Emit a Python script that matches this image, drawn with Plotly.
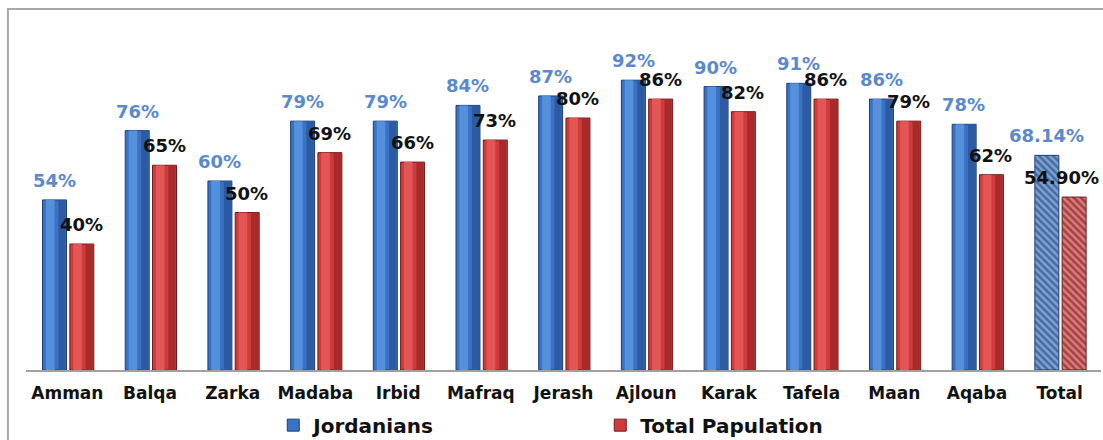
import plotly.graph_objects as go

# Share of population by governorate (%)
governorates = ["Amman", "Balqa", "Zarka", "Madaba", "Irbid", "Mafraq", "Jerash",
                "Ajloun", "Karak", "Tafela", "Maan", "Aqaba", "Total"]
jordanians = [54, 76, 60, 79, 79, 84, 87, 92, 90, 91, 86, 78, 68.14]
total_pop = [40, 65, 50, 69, 66, 73, 80, 86, 82, 86, 79, 62, 54.90]
jordanians_labels = ["54%", "76%", "60%", "79%", "79%", "84%", "87%", "92%", "90%",
                     "91%", "86%", "78%", "68.14%"]
total_labels = ["40%", "65%", "50%", "69%", "66%", "73%", "80%", "86%", "82%",
                "86%", "79%", "62%", "54.90%"]

BLUE = "#3A72C6"
BLUE_LIGHT = "#5590DC"
BLUE_DARK = "#2C5BA3"
RED = "#D23B3B"
RED_LIGHT = "#E25656"
RED_DARK = "#A82B2B"

W = 0.29          # bar width in category units
OFF_B = -0.300    # left edge of the Jordanians bar
OFF_R = 0.030     # left edge of the Total Papulation bar

n = len(governorates)
hatch = [""] * (n - 1) + ["\\"]

fig = go.Figure()

fig.add_trace(go.Bar(
    name="Jordanians", x=governorates, y=jordanians,
    width=W, offset=OFF_B,
    marker=dict(color=BLUE, line=dict(color="#1F3F73", width=1),
                pattern=dict(shape=hatch, fgcolor="#1B2F55", bgcolor="#7AA3DC",
                             size=5, solidity=0.5)),
    hoverinfo="skip",
))
fig.add_trace(go.Bar(
    name="Total Papulation", x=governorates, y=total_pop,
    width=W, offset=OFF_R,
    marker=dict(color=RED, line=dict(color="#6E1A1A", width=1),
                pattern=dict(shape=hatch, fgcolor="#4A1414", bgcolor="#E47878",
                             size=5, solidity=0.5)),
    hoverinfo="skip",
))

# Cylinder shading on the governorate bars: dark right side, light left-centre band
for vals, off, dark, light in [(jordanians, OFF_B, BLUE_DARK, BLUE_LIGHT),
                               (total_pop, OFF_R, RED_DARK, RED_LIGHT)]:
    fig.add_trace(go.Bar(
        x=governorates[:-1], y=vals[:-1], width=W * 0.3, offset=off + W * 0.66,
        marker=dict(color=dark, line=dict(width=0)), showlegend=False, hoverinfo="skip",
    ))
    fig.add_trace(go.Bar(
        x=governorates[:-1], y=vals[:-1], width=W * 0.36, offset=off + W * 0.14,
        marker=dict(color=light, line=dict(width=0)), showlegend=False, hoverinfo="skip",
    ))

# Value labels above each bar (the last one is pulled in to stay inside the frame)
for i, g in enumerate(governorates):
    fig.add_annotation(x=g, y=jordanians[i], text=jordanians_labels[i],
                       xshift=-13, yshift=7, yanchor="bottom", showarrow=False,
                       font=dict(family="DejaVu Sans", size=18, color="#5A89CC",
                                 weight="bold"))
    fig.add_annotation(x=g, y=total_pop[i], text=total_labels[i],
                       xshift=14 if i < n - 1 else 2, yshift=7, yanchor="bottom",
                       showarrow=False,
                       font=dict(family="DejaVu Sans", size=18, color="#111111",
                                 weight="bold"))

# Outer chart frame
fig.add_shape(type="rect", xref="paper", yref="paper",
              x0=-0.0168, x1=1.05, y0=-0.35, y1=1.146,
              line=dict(color="#A8A8A8", width=2), fillcolor="rgba(0,0,0,0)")

fig.update_layout(
    width=1103, height=440,
    margin=dict(l=26, r=2, t=55, b=70, autoexpand=False),
    barmode="overlay",
    plot_bgcolor="white", paper_bgcolor="white",
    showlegend=True,
    legend=dict(orientation="h", x=0.230, y=-0.175, xanchor="left", yanchor="middle",
                entrywidth=282, entrywidthmode="pixels",
                font=dict(family="DejaVu Sans", size=20, color="#111111", weight="bold"),
                bgcolor="rgba(0,0,0,0)", itemclick=False),
    xaxis=dict(range=[-0.5, n - 0.5], showline=True, linecolor="#A0A0A0", linewidth=1.5,
               showgrid=False, ticks="", ticklabelstandoff=7,
               tickfont=dict(family="DejaVu Sans", size=17, color="#111111", weight="bold")),
    yaxis=dict(range=[0, 100], visible=False, showgrid=False),
)

fig.write_html("out.html")
